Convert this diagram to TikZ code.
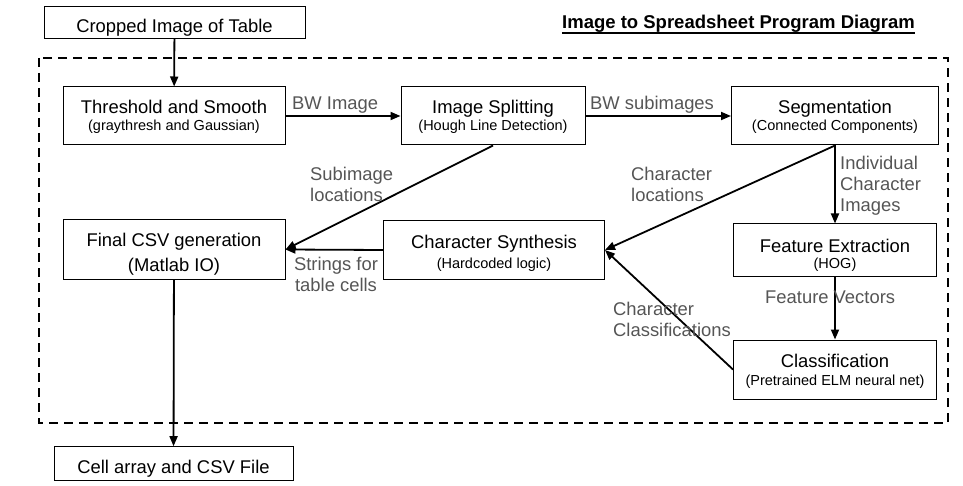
\documentclass[tikz,border=0pt]{standalone}
\usepackage{fontspec}
\setmainfont{Liberation Sans}
\usetikzlibrary{arrows.meta}
\definecolor{labelgray}{RGB}{85,85,85}
\newcommand\boxfont{\fontsize{18.4}{17}\selectfont}
\newcommand\subfont{\fontsize{14.5}{17}\selectfont}
\newcommand\lblfont{\fontsize{18.4}{21}\selectfont}
\newcommand\titlefont{\bfseries\fontsize{18.5}{20}\selectfont}
\setlength{\tabcolsep}{0pt}
\begin{document}
\begin{tikzpicture}[x=1pt,y=-1pt,
  box/.style={draw=black, line width=1pt, inner sep=0pt, font=\boxfont, text depth=4pt},
  flow/.style={line width=1.8pt, -{Triangle[length=10pt,width=8pt]}},
  lbl/.style={text=labelgray, font=\lblfont, inner sep=0pt},
  frame/.style={line width=1.5pt, dash pattern=on 9pt off 6pt},
]
\useasboundingbox (0,0) rectangle (963,486);

% title
\node[font=\titlefont, inner sep=0pt, anchor=base] (title) at (738.5,29) {Image to Spreadsheet Program Diagram};
\draw[line width=1.4pt] ([yshift=-4pt]title.base west) -- ([yshift=-4pt]title.base east);

% dashed frame
\draw[frame] (39,58) rectangle (948,423);

% boxes
\node[box, minimum width=261pt, minimum height=32pt, text height=24.4pt] (crop) at (174.5,22.5) {Cropped Image of Table};
\node[box, minimum width=222pt, minimum height=58pt, text height=34pt] (thr) at (174,116)
  {\begin{tabular}[b]{@{}c@{}}Threshold and Smooth\\[0.5pt]\subfont (graythresh and Gaussian)\end{tabular}};
\node[box, minimum width=184pt, minimum height=58pt, text height=34pt] (isp) at (493,116)
  {\begin{tabular}[b]{@{}c@{}}Image Splitting\\[0.5pt]\subfont (Hough Line Detection)\end{tabular}};
\node[box, minimum width=207pt, minimum height=58pt, text height=34pt] (seg) at (835,116)
  {\begin{tabular}[b]{@{}c@{}}Segmentation\\[0.5pt]\subfont (Connected Components)\end{tabular}};
\node[box, minimum width=222pt, minimum height=59pt, text height=47pt] (fin) at (174,249.5)
  {\begin{tabular}[b]{@{}c@{}}Final CSV generation\\[5.7pt](Matlab IO)\end{tabular}};
\node[box, minimum width=221pt, minimum height=58pt, text height=40.6pt] (cs) at (494,250)
  {\begin{tabular}[b]{@{}c@{}}Character Synthesis\\[3pt]\subfont (Hardcoded logic)\end{tabular}};
\node[box, minimum width=203pt, minimum height=52pt, text height=42pt] (fe) at (835,250)
  {\begin{tabular}[b]{@{}c@{}}Feature Extraction\\\subfont (HOG)\end{tabular}};
\node[box, minimum width=203pt, minimum height=59pt, text height=35pt] (cls) at (835,369.5)
  {\begin{tabular}[b]{@{}c@{}}Classification\\[0.3pt]\subfont (Pretrained ELM neural net)\end{tabular}};
\node[box, minimum width=239pt, minimum height=34pt, text height=23.2pt] (cell) at (173.5,463.7) {Cell array and CSV File};

% connectors
\draw[flow] (crop) -- (thr);
\draw[flow] (thr) -- (isp);
\draw[flow] (isp) -- (seg);
\draw[flow] (isp.south) -- (fin.east);
\draw[flow] (seg.south) -- (cs.east);
\draw[flow] (seg.south) -- (fe.north);
\draw[flow] (cs.west) -- (fin.east);
\draw[flow] (fe) -- (cls);
\draw[flow] (cls.west) -- (cs.east);
\draw[flow] (fin) -- (cell);

% labels
\node[lbl, anchor=base west] (l1) at (292,110) {BW Image};
\node[lbl, anchor=base west] (l2) at (590,110) {BW subimages};
\node[lbl, anchor=base west] (l3) at (310,181) {\begin{tabular}[t]{@{}l@{}}Subimage\\locations\end{tabular}};
\node[lbl, anchor=base west] (l4) at (631,181) {\begin{tabular}[t]{@{}l@{}}Character\\locations\end{tabular}};
\node[lbl, anchor=base west] (l5) at (840,169.5) {\begin{tabular}[t]{@{}l@{}}Individual\\Character\\Images\end{tabular}};
\node[lbl, anchor=base] (l6) at (336,270.7) {\begin{tabular}[t]{@{}c@{}}Strings for\\table cells\end{tabular}};
\node[lbl, anchor=base west] (l7) at (765,303.3) {Feature Vectors};
\node[lbl, anchor=base west] (l8) at (613,315) {\begin{tabular}[t]{@{}l@{}}Character\\Classifications\end{tabular}};
\end{tikzpicture}
\end{document}
